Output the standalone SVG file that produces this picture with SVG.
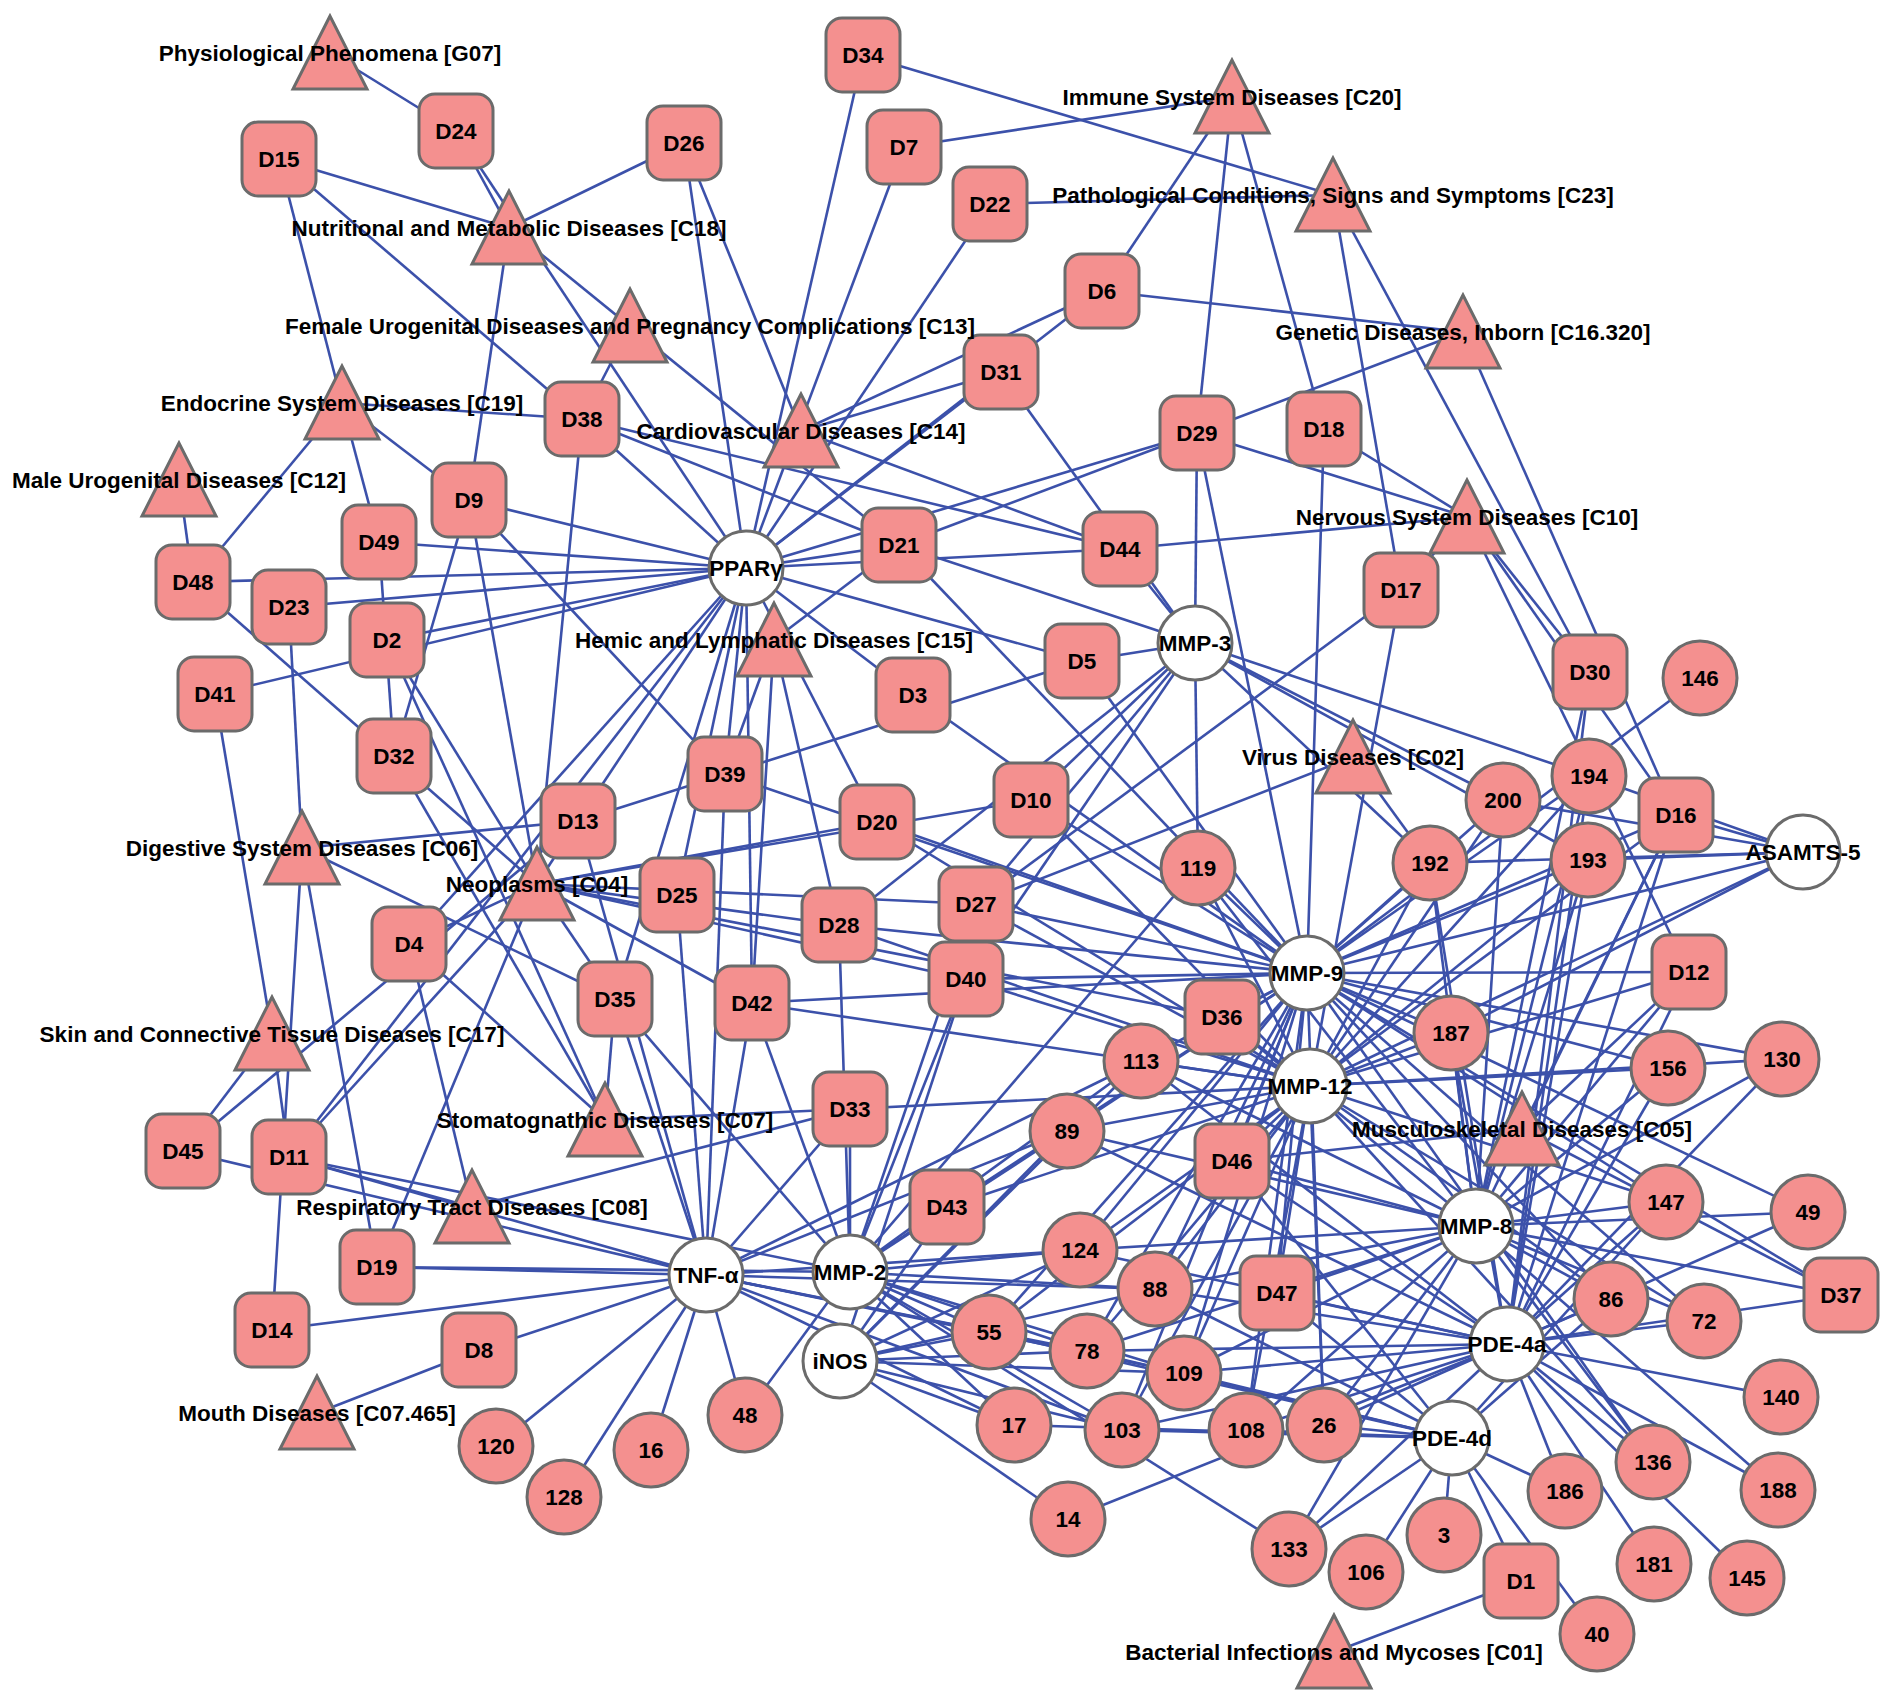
<svg xmlns="http://www.w3.org/2000/svg" width="1890" height="1705" viewBox="0 0 1890 1705">
<style>
#edges path{stroke:#3C51AA;stroke-width:2.6;fill:none}
.d,.t{stroke:#6B6B6B;stroke-width:3}
.d{fill:#F4908F}
.t{fill:#FFFFFF}
text{font-family:"Liberation Sans",Arial,sans-serif;font-weight:bold;font-size:22.5px;text-anchor:middle;fill:#000}
</style>
<rect width="1890" height="1705" fill="#FFFFFF"/>
<g id="edges">
<path d="M330 53L456 131"/><path d="M509 228L456 131"/><path d="M509 228L279 159"/><path d="M509 228L684 143"/><path d="M509 228L469 500"/><path d="M509 228L899 545"/>
<path d="M630 326L582 419"/><path d="M342 403L279 159"/><path d="M342 403L582 419"/><path d="M342 403L193 582"/><path d="M342 403L379 542"/><path d="M342 403L469 500"/><path d="M179 480L193 582"/>
<path d="M1232 97L904 147"/><path d="M1232 97L1102 291"/><path d="M1232 97L1324 429"/><path d="M1232 97L1197 433"/>
<path d="M1333 195L863 55"/><path d="M1333 195L990 204"/><path d="M1333 195L1401 590"/><path d="M1333 195L1590 672"/>
<path d="M1463 332L1102 291"/><path d="M1463 332L1197 433"/><path d="M1463 332L1676 815"/>
<path d="M801 431L684 143"/><path d="M801 431L1001 372"/><path d="M801 431L1102 291"/><path d="M801 431L1120 549"/>
<path d="M1467 517L1197 433"/><path d="M1467 517L1324 429"/><path d="M1467 517L1120 549"/><path d="M1467 517L1401 590"/><path d="M1467 517L1590 672"/><path d="M1467 517L1676 815"/><path d="M1467 517L1689 972"/>
<path d="M774 640L899 545"/><path d="M774 640L725 774"/><path d="M774 640L752 1003"/><path d="M774 640L839 925"/>
<path d="M1353 757L976 904"/><path d="M1353 757L1430 863"/>
<path d="M302 848L289 607"/><path d="M302 848L578 821"/><path d="M302 848L377 1267"/><path d="M302 848L615 999"/><path d="M302 848L272 1330"/>
<path d="M537 884L193 582"/><path d="M537 884L469 500"/><path d="M537 884L387 640"/><path d="M537 884L582 419"/><path d="M537 884L289 1157"/><path d="M537 884L377 1267"/><path d="M537 884L409 944"/><path d="M537 884L976 904"/><path d="M537 884L966 979"/><path d="M537 884L877 822"/><path d="M537 884L578 821"/><path d="M537 884L752 1003"/><path d="M537 884L615 999"/><path d="M537 884L1031 800"/><path d="M537 884L1222 1017"/><path d="M537 884L839 925"/>
<path d="M272 1034L215 694"/><path d="M272 1034L183 1151"/><path d="M272 1034L289 1157"/>
<path d="M605 1120L394 756"/><path d="M605 1120L387 640"/><path d="M605 1120L409 944"/><path d="M605 1120L615 999"/><path d="M605 1120L850 1109"/>
<path d="M472 1207L409 944"/><path d="M472 1207L289 1157"/><path d="M472 1207L850 1109"/>
<path d="M1522 1129L1232 1161"/><path d="M1522 1129L1689 972"/><path d="M1522 1129L1676 815"/><path d="M1522 1129L1841 1295"/>
<path d="M317 1413L479 1350"/><path d="M1334 1652L1521 1581"/>
<path d="M183 1151L578 821"/><path d="M469 500L394 756"/><path d="M379 542L394 756"/><path d="M469 500L725 774"/><path d="M582 419L1120 549"/><path d="M582 419L899 545"/><path d="M279 159L582 419"/><path d="M899 545L1197 433"/><path d="M1401 590L976 904"/><path d="M1082 661L578 821"/>
<path d="M746 568L456 131"/><path d="M746 568L582 419"/><path d="M746 568L684 143"/><path d="M746 568L863 55"/><path d="M746 568L904 147"/><path d="M746 568L990 204"/><path d="M746 568L1102 291"/><path d="M746 568L1001 372"/><path d="M746 568L899 545"/><path d="M746 568L1197 433"/><path d="M746 568L1120 549"/><path d="M746 568L1082 661"/><path d="M746 568L913 695"/><path d="M746 568L877 822"/><path d="M746 568L725 774"/><path d="M746 568L677 895"/><path d="M746 568L578 821"/><path d="M746 568L615 999"/><path d="M746 568L409 944"/><path d="M746 568L289 1157"/><path d="M746 568L387 640"/><path d="M746 568L289 607"/><path d="M746 568L193 582"/><path d="M746 568L379 542"/><path d="M746 568L469 500"/><path d="M746 568L215 694"/><path d="M746 568L752 1003"/>
<path d="M706 1275L377 1267"/><path d="M706 1275L272 1330"/><path d="M706 1275L479 1350"/><path d="M706 1275L183 1151"/><path d="M706 1275L289 1157"/><path d="M706 1275L752 1003"/><path d="M706 1275L615 999"/><path d="M706 1275L677 895"/><path d="M706 1275L578 821"/><path d="M706 1275L850 1109"/><path d="M706 1275L725 774"/>
<path d="M850 1272L289 1157"/><path d="M850 1272L377 1267"/><path d="M850 1272L850 1109"/><path d="M850 1272L839 925"/><path d="M850 1272L966 979"/><path d="M850 1272L976 904"/><path d="M850 1272L947 1207"/><path d="M850 1272L752 1003"/><path d="M850 1272L615 999"/>
<path d="M1307 973L1324 429"/><path d="M1307 973L1197 433"/><path d="M1307 973L1082 661"/><path d="M1307 973L913 695"/><path d="M1307 973L1031 800"/><path d="M1307 973L877 822"/><path d="M1307 973L976 904"/><path d="M1307 973L839 925"/><path d="M1307 973L966 979"/><path d="M1307 973L752 1003"/><path d="M1307 973L1222 1017"/><path d="M1307 973L1232 1161"/><path d="M1307 973L1689 972"/><path d="M1307 973L1676 815"/><path d="M1307 973L899 545"/><path d="M1307 973L1277 1293"/><path d="M1307 973L1841 1295"/><path d="M1307 973L947 1207"/><path d="M1307 973L725 774"/>
<path d="M1310 1086L1401 590"/><path d="M1310 1086L1222 1017"/><path d="M1310 1086L1232 1161"/><path d="M1310 1086L966 979"/><path d="M1310 1086L752 1003"/><path d="M1310 1086L850 1109"/><path d="M1310 1086L839 925"/><path d="M1310 1086L976 904"/><path d="M1310 1086L1031 800"/><path d="M1310 1086L877 822"/><path d="M1310 1086L1689 972"/><path d="M1310 1086L1676 815"/><path d="M1310 1086L1277 1293"/><path d="M1310 1086L947 1207"/>
<path d="M1195 643L1120 549"/><path d="M1195 643L1082 661"/><path d="M1195 643L899 545"/><path d="M1195 643L1001 372"/><path d="M1195 643L1197 433"/><path d="M1195 643L1031 800"/><path d="M1195 643L839 925"/><path d="M1195 643L976 904"/><path d="M1195 643L966 979"/>
<path d="M1476 1226L1232 1161"/><path d="M1476 1226L1277 1293"/><path d="M1476 1226L1841 1295"/><path d="M1476 1226L1689 972"/><path d="M1476 1226L1676 815"/><path d="M1476 1226L1222 1017"/><path d="M1476 1226L1590 672"/>
<path d="M1507 1344L1841 1295"/><path d="M1507 1344L1590 672"/><path d="M1507 1344L1277 1293"/><path d="M1507 1344L1232 1161"/><path d="M1507 1344L1689 972"/><path d="M1507 1344L1676 815"/>
<path d="M1452 1438L1521 1581"/><path d="M1452 1438L1277 1293"/><path d="M1452 1438L1232 1161"/>
<path d="M840 1361L947 1207"/><path d="M840 1361L966 979"/>
<path d="M1803 852L1307 973"/><path d="M1803 852L1310 1086"/><path d="M1803 852L1676 815"/>
<path d="M1700 678L1307 973"/>
<path d="M1589 776L1195 643"/><path d="M1589 776L1307 973"/><path d="M1589 776L1310 1086"/><path d="M1589 776L1476 1226"/><path d="M1589 776L1507 1344"/><path d="M1589 776L1803 852"/>
<path d="M1503 800L1195 643"/><path d="M1503 800L1307 973"/><path d="M1503 800L1310 1086"/><path d="M1503 800L1476 1226"/><path d="M1503 800L1803 852"/>
<path d="M1430 863L1307 973"/><path d="M1430 863L1310 1086"/><path d="M1430 863L1476 1226"/><path d="M1430 863L1507 1344"/><path d="M1430 863L1803 852"/><path d="M1430 863L1195 643"/>
<path d="M1588 860L1307 973"/><path d="M1588 860L1310 1086"/><path d="M1588 860L1476 1226"/><path d="M1588 860L1507 1344"/><path d="M1588 860L1803 852"/><path d="M1588 860L1195 643"/>
<path d="M1198 868L1195 643"/><path d="M1198 868L1307 973"/><path d="M1198 868L1310 1086"/><path d="M1198 868L1476 1226"/><path d="M1198 868L850 1272"/>
<path d="M1451 1033L1307 973"/><path d="M1451 1033L1310 1086"/><path d="M1451 1033L1476 1226"/><path d="M1451 1033L1507 1344"/><path d="M1451 1033L1803 852"/>
<path d="M1668 1068L1307 973"/><path d="M1668 1068L1310 1086"/><path d="M1668 1068L1476 1226"/><path d="M1668 1068L1507 1344"/>
<path d="M1782 1059L1307 973"/><path d="M1782 1059L1507 1344"/><path d="M1782 1059L1476 1226"/><path d="M1782 1059L1310 1086"/>
<path d="M1666 1202L1307 973"/><path d="M1666 1202L1310 1086"/><path d="M1666 1202L1476 1226"/><path d="M1666 1202L1507 1344"/><path d="M1666 1202L1452 1438"/>
<path d="M1808 1212L1307 973"/><path d="M1808 1212L1476 1226"/><path d="M1808 1212L1507 1344"/>
<path d="M1611 1299L1476 1226"/><path d="M1611 1299L1507 1344"/><path d="M1611 1299L1452 1438"/><path d="M1611 1299L1307 973"/><path d="M1611 1299L1310 1086"/>
<path d="M1704 1321L1476 1226"/><path d="M1704 1321L1507 1344"/><path d="M1704 1321L1307 973"/><path d="M1704 1321L1310 1086"/>
<path d="M1781 1397L1507 1344"/><path d="M1778 1490L1507 1344"/><path d="M1778 1490L1476 1226"/>
<path d="M1653 1462L1507 1344"/><path d="M1653 1462L1476 1226"/><path d="M1653 1462L1310 1086"/><path d="M1653 1462L1307 973"/>
<path d="M1747 1578L1507 1344"/><path d="M1654 1564L1507 1344"/><path d="M1565 1491L1507 1344"/><path d="M1565 1491L1452 1438"/>
<path d="M1597 1634L1452 1438"/><path d="M1444 1535L1452 1438"/><path d="M1366 1572L1452 1438"/>
<path d="M1289 1549L1452 1438"/><path d="M1289 1549L1507 1344"/><path d="M1289 1549L850 1272"/><path d="M1289 1549L1476 1226"/>
<path d="M1324 1425L1507 1344"/><path d="M1324 1425L1452 1438"/><path d="M1324 1425L1476 1226"/><path d="M1324 1425L1310 1086"/><path d="M1324 1425L1307 973"/>
<path d="M1246 1430L1507 1344"/><path d="M1246 1430L1452 1438"/><path d="M1246 1430L1307 973"/><path d="M1246 1430L1310 1086"/><path d="M1246 1430L1476 1226"/>
<path d="M1068 1519L840 1361"/><path d="M1068 1519L1507 1344"/>
<path d="M1122 1430L850 1272"/><path d="M1122 1430L840 1361"/><path d="M1122 1430L706 1275"/><path d="M1122 1430L1452 1438"/><path d="M1122 1430L1507 1344"/><path d="M1122 1430L1307 973"/><path d="M1122 1430L1310 1086"/>
<path d="M1014 1425L850 1272"/><path d="M1014 1425L706 1275"/><path d="M1014 1425L840 1361"/><path d="M1014 1425L1452 1438"/>
<path d="M1184 1373L850 1272"/><path d="M1184 1373L840 1361"/><path d="M1184 1373L1307 973"/><path d="M1184 1373L1310 1086"/><path d="M1184 1373L1476 1226"/><path d="M1184 1373L1507 1344"/><path d="M1184 1373L1452 1438"/><path d="M1184 1373L706 1275"/>
<path d="M1087 1351L850 1272"/><path d="M1087 1351L706 1275"/><path d="M1087 1351L840 1361"/><path d="M1087 1351L1307 973"/><path d="M1087 1351L1310 1086"/><path d="M1087 1351L1476 1226"/><path d="M1087 1351L1507 1344"/><path d="M1087 1351L1452 1438"/>
<path d="M989 1332L850 1272"/><path d="M989 1332L706 1275"/><path d="M989 1332L840 1361"/><path d="M989 1332L1307 973"/><path d="M989 1332L1310 1086"/><path d="M989 1332L1452 1438"/>
<path d="M1155 1289L850 1272"/><path d="M1155 1289L840 1361"/><path d="M1155 1289L706 1275"/><path d="M1155 1289L1307 973"/><path d="M1155 1289L1310 1086"/><path d="M1155 1289L1476 1226"/><path d="M1155 1289L1507 1344"/><path d="M1155 1289L1452 1438"/>
<path d="M1080 1250L850 1272"/><path d="M1080 1250L840 1361"/><path d="M1080 1250L706 1275"/><path d="M1080 1250L1307 973"/><path d="M1080 1250L1310 1086"/><path d="M1080 1250L1476 1226"/><path d="M1080 1250L1507 1344"/>
<path d="M1067 1131L850 1272"/><path d="M1067 1131L840 1361"/><path d="M1067 1131L706 1275"/><path d="M1067 1131L1307 973"/><path d="M1067 1131L1310 1086"/><path d="M1067 1131L1476 1226"/><path d="M1067 1131L1507 1344"/>
<path d="M1141 1061L850 1272"/><path d="M1141 1061L840 1361"/><path d="M1141 1061L706 1275"/><path d="M1141 1061L1307 973"/><path d="M1141 1061L1310 1086"/><path d="M1141 1061L1476 1226"/><path d="M1141 1061L1507 1344"/>
<path d="M745 1415L706 1275"/><path d="M745 1415L850 1272"/><path d="M651 1450L706 1275"/><path d="M564 1497L706 1275"/><path d="M496 1446L706 1275"/>
</g>
<g id="n-D1"><rect class="d" x="1484" y="1544" width="74" height="74" rx="16"/><text x="1521" y="1589">D1</text></g>
<g id="n-D2"><rect class="d" x="350" y="603" width="74" height="74" rx="16"/><text x="387" y="648">D2</text></g>
<g id="n-D3"><rect class="d" x="876" y="658" width="74" height="74" rx="16"/><text x="913" y="703">D3</text></g>
<g id="n-D4"><rect class="d" x="372" y="907" width="74" height="74" rx="16"/><text x="409" y="952">D4</text></g>
<g id="n-D5"><rect class="d" x="1045" y="624" width="74" height="74" rx="16"/><text x="1082" y="669">D5</text></g>
<g id="n-D6"><rect class="d" x="1065" y="254" width="74" height="74" rx="16"/><text x="1102" y="299">D6</text></g>
<g id="n-D7"><rect class="d" x="867" y="110" width="74" height="74" rx="16"/><text x="904" y="155">D7</text></g>
<g id="n-D8"><rect class="d" x="442" y="1313" width="74" height="74" rx="16"/><text x="479" y="1358">D8</text></g>
<g id="n-D9"><rect class="d" x="432" y="463" width="74" height="74" rx="16"/><text x="469" y="508">D9</text></g>
<g id="n-D10"><rect class="d" x="994" y="763" width="74" height="74" rx="16"/><text x="1031" y="808">D10</text></g>
<g id="n-D11"><rect class="d" x="252" y="1120" width="74" height="74" rx="16"/><text x="289" y="1165">D11</text></g>
<g id="n-D12"><rect class="d" x="1652" y="935" width="74" height="74" rx="16"/><text x="1689" y="980">D12</text></g>
<g id="n-D13"><rect class="d" x="541" y="784" width="74" height="74" rx="16"/><text x="578" y="829">D13</text></g>
<g id="n-D14"><rect class="d" x="235" y="1293" width="74" height="74" rx="16"/><text x="272" y="1338">D14</text></g>
<g id="n-D15"><rect class="d" x="242" y="122" width="74" height="74" rx="16"/><text x="279" y="167">D15</text></g>
<g id="n-D16"><rect class="d" x="1639" y="778" width="74" height="74" rx="16"/><text x="1676" y="823">D16</text></g>
<g id="n-D17"><rect class="d" x="1364" y="553" width="74" height="74" rx="16"/><text x="1401" y="598">D17</text></g>
<g id="n-D18"><rect class="d" x="1287" y="392" width="74" height="74" rx="16"/><text x="1324" y="437">D18</text></g>
<g id="n-D19"><rect class="d" x="340" y="1230" width="74" height="74" rx="16"/><text x="377" y="1275">D19</text></g>
<g id="n-D20"><rect class="d" x="840" y="785" width="74" height="74" rx="16"/><text x="877" y="830">D20</text></g>
<g id="n-D21"><rect class="d" x="862" y="508" width="74" height="74" rx="16"/><text x="899" y="553">D21</text></g>
<g id="n-D22"><rect class="d" x="953" y="167" width="74" height="74" rx="16"/><text x="990" y="212">D22</text></g>
<g id="n-D23"><rect class="d" x="252" y="570" width="74" height="74" rx="16"/><text x="289" y="615">D23</text></g>
<g id="n-D24"><rect class="d" x="419" y="94" width="74" height="74" rx="16"/><text x="456" y="139">D24</text></g>
<g id="n-D25"><rect class="d" x="640" y="858" width="74" height="74" rx="16"/><text x="677" y="903">D25</text></g>
<g id="n-D26"><rect class="d" x="647" y="106" width="74" height="74" rx="16"/><text x="684" y="151">D26</text></g>
<g id="n-D27"><rect class="d" x="939" y="867" width="74" height="74" rx="16"/><text x="976" y="912">D27</text></g>
<g id="n-D28"><rect class="d" x="802" y="888" width="74" height="74" rx="16"/><text x="839" y="933">D28</text></g>
<g id="n-D29"><rect class="d" x="1160" y="396" width="74" height="74" rx="16"/><text x="1197" y="441">D29</text></g>
<g id="n-D30"><rect class="d" x="1553" y="635" width="74" height="74" rx="16"/><text x="1590" y="680">D30</text></g>
<g id="n-D31"><rect class="d" x="964" y="335" width="74" height="74" rx="16"/><text x="1001" y="380">D31</text></g>
<g id="n-D32"><rect class="d" x="357" y="719" width="74" height="74" rx="16"/><text x="394" y="764">D32</text></g>
<g id="n-D33"><rect class="d" x="813" y="1072" width="74" height="74" rx="16"/><text x="850" y="1117">D33</text></g>
<g id="n-D34"><rect class="d" x="826" y="18" width="74" height="74" rx="16"/><text x="863" y="63">D34</text></g>
<g id="n-D35"><rect class="d" x="578" y="962" width="74" height="74" rx="16"/><text x="615" y="1007">D35</text></g>
<g id="n-D36"><rect class="d" x="1185" y="980" width="74" height="74" rx="16"/><text x="1222" y="1025">D36</text></g>
<g id="n-D37"><rect class="d" x="1804" y="1258" width="74" height="74" rx="16"/><text x="1841" y="1303">D37</text></g>
<g id="n-D38"><rect class="d" x="545" y="382" width="74" height="74" rx="16"/><text x="582" y="427">D38</text></g>
<g id="n-D39"><rect class="d" x="688" y="737" width="74" height="74" rx="16"/><text x="725" y="782">D39</text></g>
<g id="n-D40"><rect class="d" x="929" y="942" width="74" height="74" rx="16"/><text x="966" y="987">D40</text></g>
<g id="n-D41"><rect class="d" x="178" y="657" width="74" height="74" rx="16"/><text x="215" y="702">D41</text></g>
<g id="n-D42"><rect class="d" x="715" y="966" width="74" height="74" rx="16"/><text x="752" y="1011">D42</text></g>
<g id="n-D43"><rect class="d" x="910" y="1170" width="74" height="74" rx="16"/><text x="947" y="1215">D43</text></g>
<g id="n-D44"><rect class="d" x="1083" y="512" width="74" height="74" rx="16"/><text x="1120" y="557">D44</text></g>
<g id="n-D45"><rect class="d" x="146" y="1114" width="74" height="74" rx="16"/><text x="183" y="1159">D45</text></g>
<g id="n-D46"><rect class="d" x="1195" y="1124" width="74" height="74" rx="16"/><text x="1232" y="1169">D46</text></g>
<g id="n-D47"><rect class="d" x="1240" y="1256" width="74" height="74" rx="16"/><text x="1277" y="1301">D47</text></g>
<g id="n-D48"><rect class="d" x="156" y="545" width="74" height="74" rx="16"/><text x="193" y="590">D48</text></g>
<g id="n-D49"><rect class="d" x="342" y="505" width="74" height="74" rx="16"/><text x="379" y="550">D49</text></g>
<g id="n-PPARg"><circle class="t" cx="746" cy="568" r="37"/><text x="746" y="576">PPARγ</text></g>
<g id="n-MMP3"><circle class="t" cx="1195" cy="643" r="37"/><text x="1195" y="651">MMP-3</text></g>
<g id="n-ASAMTS5"><circle class="t" cx="1803" cy="852" r="37"/><text x="1803" y="860">ASAMTS-5</text></g>
<g id="n-MMP9"><circle class="t" cx="1307" cy="973" r="37"/><text x="1307" y="981">MMP-9</text></g>
<g id="n-MMP12"><circle class="t" cx="1310" cy="1086" r="37"/><text x="1310" y="1094">MMP-12</text></g>
<g id="n-MMP8"><circle class="t" cx="1476" cy="1226" r="37"/><text x="1476" y="1234">MMP-8</text></g>
<g id="n-TNFa"><circle class="t" cx="706" cy="1275" r="37"/><text x="706" y="1283">TNF-α</text></g>
<g id="n-MMP2"><circle class="t" cx="850" cy="1272" r="37"/><text x="850" y="1280">MMP-2</text></g>
<g id="n-iNOS"><circle class="t" cx="840" cy="1361" r="37"/><text x="840" y="1369">iNOS</text></g>
<g id="n-PDE4a"><circle class="t" cx="1507" cy="1344" r="37"/><text x="1507" y="1352">PDE-4a</text></g>
<g id="n-PDE4d"><circle class="t" cx="1452" cy="1438" r="37"/><text x="1452" y="1446">PDE-4d</text></g>
<g id="n-146"><circle class="d" cx="1700" cy="678" r="37"/><text x="1700" y="686">146</text></g>
<g id="n-194"><circle class="d" cx="1589" cy="776" r="37"/><text x="1589" y="784">194</text></g>
<g id="n-200"><circle class="d" cx="1503" cy="800" r="37"/><text x="1503" y="808">200</text></g>
<g id="n-192"><circle class="d" cx="1430" cy="863" r="37"/><text x="1430" y="871">192</text></g>
<g id="n-193"><circle class="d" cx="1588" cy="860" r="37"/><text x="1588" y="868">193</text></g>
<g id="n-119"><circle class="d" cx="1198" cy="868" r="37"/><text x="1198" y="876">119</text></g>
<g id="n-187"><circle class="d" cx="1451" cy="1033" r="37"/><text x="1451" y="1041">187</text></g>
<g id="n-156"><circle class="d" cx="1668" cy="1068" r="37"/><text x="1668" y="1076">156</text></g>
<g id="n-130"><circle class="d" cx="1782" cy="1059" r="37"/><text x="1782" y="1067">130</text></g>
<g id="n-113"><circle class="d" cx="1141" cy="1061" r="37"/><text x="1141" y="1069">113</text></g>
<g id="n-89"><circle class="d" cx="1067" cy="1131" r="37"/><text x="1067" y="1139">89</text></g>
<g id="n-147"><circle class="d" cx="1666" cy="1202" r="37"/><text x="1666" y="1210">147</text></g>
<g id="n-49"><circle class="d" cx="1808" cy="1212" r="37"/><text x="1808" y="1220">49</text></g>
<g id="n-124"><circle class="d" cx="1080" cy="1250" r="37"/><text x="1080" y="1258">124</text></g>
<g id="n-88"><circle class="d" cx="1155" cy="1289" r="37"/><text x="1155" y="1297">88</text></g>
<g id="n-86"><circle class="d" cx="1611" cy="1299" r="37"/><text x="1611" y="1307">86</text></g>
<g id="n-72"><circle class="d" cx="1704" cy="1321" r="37"/><text x="1704" y="1329">72</text></g>
<g id="n-55"><circle class="d" cx="989" cy="1332" r="37"/><text x="989" y="1340">55</text></g>
<g id="n-78"><circle class="d" cx="1087" cy="1351" r="37"/><text x="1087" y="1359">78</text></g>
<g id="n-109"><circle class="d" cx="1184" cy="1373" r="37"/><text x="1184" y="1381">109</text></g>
<g id="n-140"><circle class="d" cx="1781" cy="1397" r="37"/><text x="1781" y="1405">140</text></g>
<g id="n-17"><circle class="d" cx="1014" cy="1425" r="37"/><text x="1014" y="1433">17</text></g>
<g id="n-103"><circle class="d" cx="1122" cy="1430" r="37"/><text x="1122" y="1438">103</text></g>
<g id="n-108"><circle class="d" cx="1246" cy="1430" r="37"/><text x="1246" y="1438">108</text></g>
<g id="n-26"><circle class="d" cx="1324" cy="1425" r="37"/><text x="1324" y="1433">26</text></g>
<g id="n-136"><circle class="d" cx="1653" cy="1462" r="37"/><text x="1653" y="1470">136</text></g>
<g id="n-188"><circle class="d" cx="1778" cy="1490" r="37"/><text x="1778" y="1498">188</text></g>
<g id="n-186"><circle class="d" cx="1565" cy="1491" r="37"/><text x="1565" y="1499">186</text></g>
<g id="n-14"><circle class="d" cx="1068" cy="1519" r="37"/><text x="1068" y="1527">14</text></g>
<g id="n-3"><circle class="d" cx="1444" cy="1535" r="37"/><text x="1444" y="1543">3</text></g>
<g id="n-133"><circle class="d" cx="1289" cy="1549" r="37"/><text x="1289" y="1557">133</text></g>
<g id="n-106"><circle class="d" cx="1366" cy="1572" r="37"/><text x="1366" y="1580">106</text></g>
<g id="n-181"><circle class="d" cx="1654" cy="1564" r="37"/><text x="1654" y="1572">181</text></g>
<g id="n-145"><circle class="d" cx="1747" cy="1578" r="37"/><text x="1747" y="1586">145</text></g>
<g id="n-40"><circle class="d" cx="1597" cy="1634" r="37"/><text x="1597" y="1642">40</text></g>
<g id="n-120"><circle class="d" cx="496" cy="1446" r="37"/><text x="496" y="1454">120</text></g>
<g id="n-128"><circle class="d" cx="564" cy="1497" r="37"/><text x="564" y="1505">128</text></g>
<g id="n-16"><circle class="d" cx="651" cy="1450" r="37"/><text x="651" y="1458">16</text></g>
<g id="n-48"><circle class="d" cx="745" cy="1415" r="37"/><text x="745" y="1423">48</text></g>
<g id="n-G07"><polygon class="d" points="330,16 293,89 367,89"/><text x="330" y="61">Physiological Phenomena [G07]</text></g>
<g id="n-C18"><polygon class="d" points="509,191 472,264 546,264"/><text x="509" y="236">Nutritional and Metabolic Diseases [C18]</text></g>
<g id="n-C20"><polygon class="d" points="1232,60 1195,133 1269,133"/><text x="1232" y="105">Immune System Diseases [C20]</text></g>
<g id="n-C23"><polygon class="d" points="1333,158 1296,231 1370,231"/><text x="1333" y="203">Pathological Conditions, Signs and Symptoms [C23]</text></g>
<g id="n-C13"><polygon class="d" points="630,289 593,362 667,362"/><text x="630" y="334">Female Urogenital Diseases and Pregnancy Complications [C13]</text></g>
<g id="n-C16"><polygon class="d" points="1463,295 1426,368 1500,368"/><text x="1463" y="340">Genetic Diseases, Inborn [C16.320]</text></g>
<g id="n-C19"><polygon class="d" points="342,366 305,439 379,439"/><text x="342" y="411">Endocrine System Diseases [C19]</text></g>
<g id="n-C14"><polygon class="d" points="801,394 764,467 838,467"/><text x="801" y="439">Cardiovascular Diseases [C14]</text></g>
<g id="n-C12"><polygon class="d" points="179,443 142,516 216,516"/><text x="179" y="488">Male Urogenital Diseases [C12]</text></g>
<g id="n-C10"><polygon class="d" points="1467,480 1430,553 1504,553"/><text x="1467" y="525">Nervous System Diseases [C10]</text></g>
<g id="n-C15"><polygon class="d" points="774,603 737,676 811,676"/><text x="774" y="648">Hemic and Lymphatic Diseases [C15]</text></g>
<g id="n-C02"><polygon class="d" points="1353,720 1316,793 1390,793"/><text x="1353" y="765">Virus Diseases [C02]</text></g>
<g id="n-C06"><polygon class="d" points="302,811 265,884 339,884"/><text x="302" y="856">Digestive System Diseases [C06]</text></g>
<g id="n-C04"><polygon class="d" points="537,847 500,920 574,920"/><text x="537" y="892">Neoplasms [C04]</text></g>
<g id="n-C17"><polygon class="d" points="272,997 235,1070 309,1070"/><text x="272" y="1042">Skin and Connective Tissue Diseases [C17]</text></g>
<g id="n-C07"><polygon class="d" points="605,1083 568,1156 642,1156"/><text x="605" y="1128">Stomatognathic Diseases [C07]</text></g>
<g id="n-C05"><polygon class="d" points="1522,1092 1485,1165 1559,1165"/><text x="1522" y="1137">Musculoskeletal Diseases [C05]</text></g>
<g id="n-C08"><polygon class="d" points="472,1170 435,1243 509,1243"/><text x="472" y="1215">Respiratory Tract Diseases [C08]</text></g>
<g id="n-C07465"><polygon class="d" points="317,1376 280,1449 354,1449"/><text x="317" y="1421">Mouth Diseases [C07.465]</text></g>
<g id="n-C01"><polygon class="d" points="1334,1615 1297,1688 1371,1688"/><text x="1334" y="1660">Bacterial Infections and Mycoses [C01]</text></g>
</svg>
